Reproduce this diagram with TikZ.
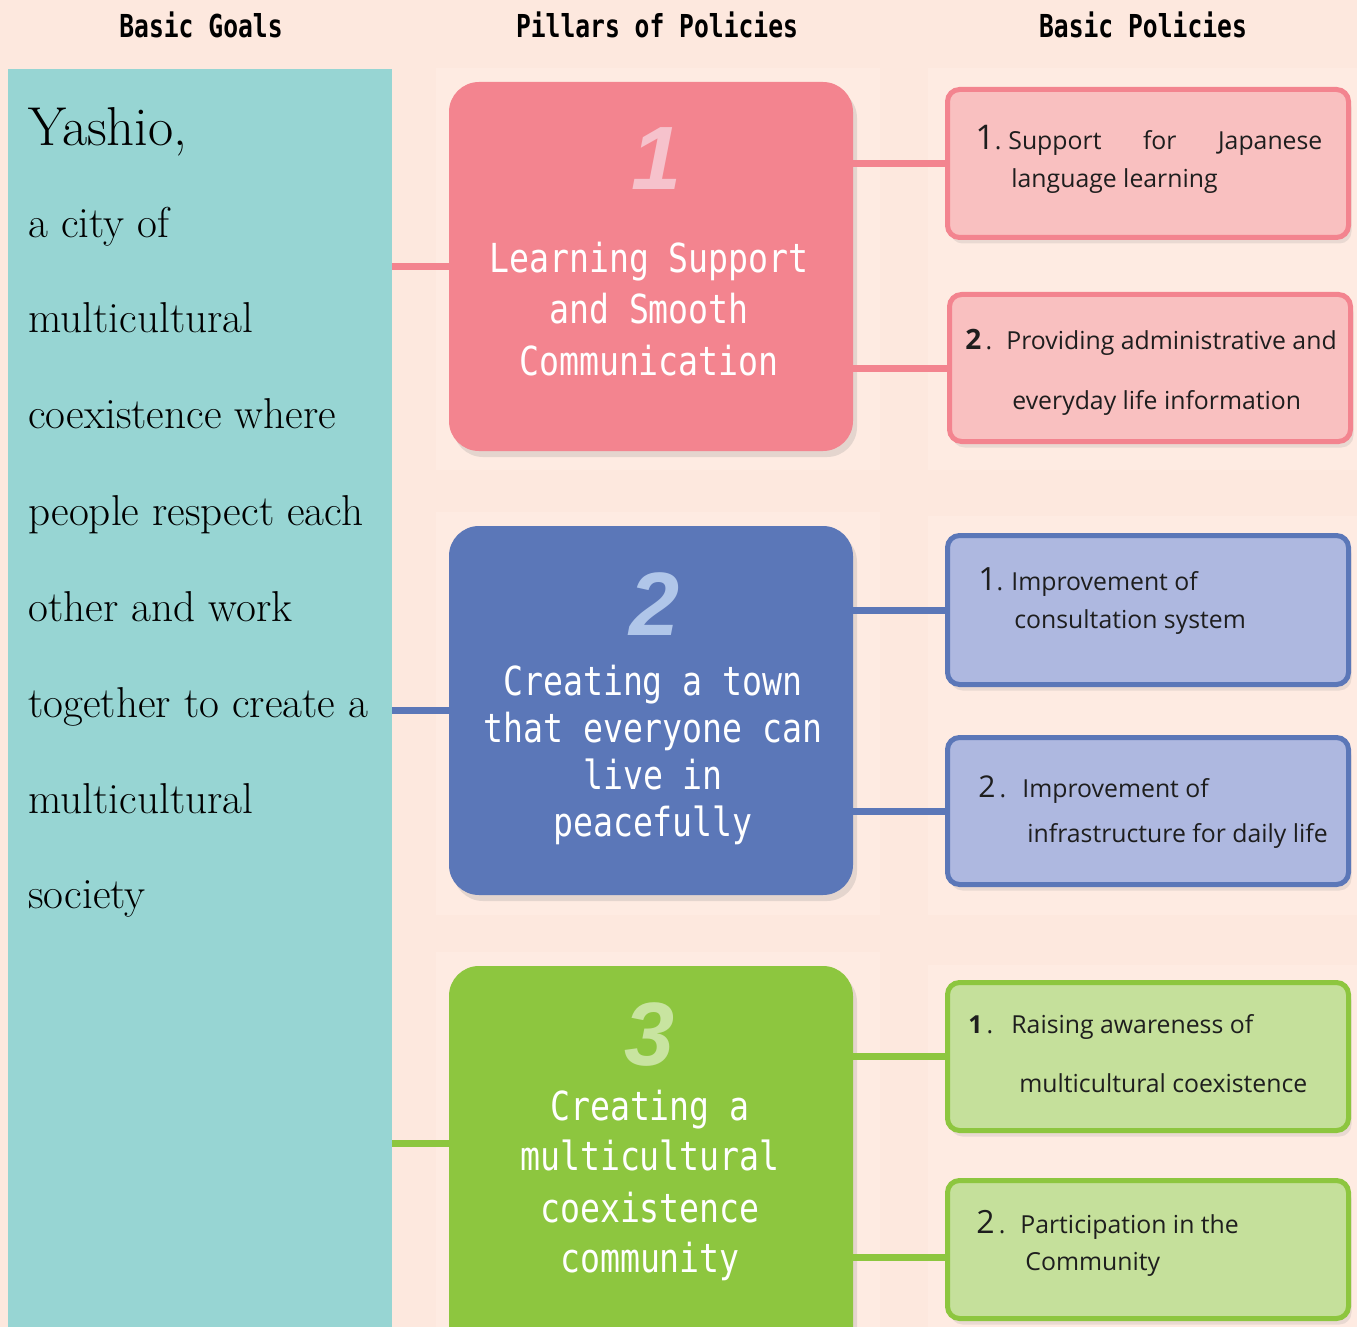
\documentclass[tikz,border=0pt]{standalone}
\usepackage{fontspec}
\newfontfamily\hdrfont[FakeStretch=0.78]{DejaVu Sans Mono}
\newfontfamily\pilfont[FakeStretch=0.83]{DejaVu Sans Mono}
\newfontfamily\polfont{Open Sans}
\newfontfamily\numfont{Liberation Sans}
\usetikzlibrary{shadows}
\definecolor{bgc}{RGB}{253,232,222}
\definecolor{panelc}{RGB}{254,235,226}
\definecolor{tealc}{RGB}{151,213,211}
\definecolor{pinkD}{RGB}{243,132,143}
\definecolor{pinkL}{RGB}{249,192,192}
\definecolor{pinkN}{RGB}{246,194,204}
\definecolor{blueD}{RGB}{91,119,184}
\definecolor{blueL}{RGB}{174,184,224}
\definecolor{blueN}{RGB}{176,198,233}
\definecolor{greenD}{RGB}{141,198,63}
\definecolor{greenL}{RGB}{197,224,155}
\definecolor{greenN}{RGB}{200,228,160}
\definecolor{txtc}{RGB}{30,30,30}
\begin{document}
\begin{tikzpicture}[x=0.5pt,y=-0.5pt,
  hdr/.style={font=\hdrfont\bfseries\fontsize{15.8}{18}\selectfont, anchor=base, inner sep=0pt},
  goaltxt/.style={font=\fontsize{21.6}{24}\selectfont, anchor=base west, inner sep=0pt, text=black},
  pillar/.style={rounded corners=15pt, minimum width=202pt, inner sep=0pt,
     drop shadow={opacity=0.2, shadow xshift=2pt, shadow yshift=-3pt}},
  piltxt/.style={font=\pilfont\fontsize{20}{22}\selectfont, text=white, anchor=base, inner sep=0pt},
  pilnum/.style={font=\numfont\bfseries\itshape\fontsize{45}{50}\selectfont, anchor=base, inner sep=0pt},
  policy/.style={rounded corners=6pt, line width=2.5pt, minimum width=200.5pt, inner sep=0pt,
     drop shadow={opacity=0.16, shadow xshift=1.5pt, shadow yshift=-3pt}},
  poltxt/.style={font=\polfont\fontsize{12.4}{14}\selectfont, text=txtc, anchor=base west, inner sep=0pt},
  link/.style={line width=3.5pt}
]
\clip (0,0) rectangle (1357,1327);
\fill[bgc] (0,0) rectangle (1357,1327);
% faint panels
\fill[panelc] (436,68) rectangle (880,470);
\fill[panelc] (436,512) rectangle (880,915);
\fill[panelc] (436,952) rectangle (880,1327);
\fill[panelc] (928,68) rectangle (1357,470);
\fill[panelc] (928,516) rectangle (1357,915);
\fill[panelc] (928,965) rectangle (1357,1327);

% headers
\node[hdr] (h1) at (201,38) {Basic Goals};
\node[hdr] (h2) at (657,38) {Pillars of Policies};
\node[hdr] (h3) at (1143,38) {Basic Policies};

% goal box
\node[fill=tealc, minimum width=192pt, minimum height=651pt, inner sep=0pt] (goal) at (200,720) {};
\node[goaltxt, font=\fontsize{27.4}{30}\selectfont] (g0) at (28,146) {Yashio,};
\foreach \t/\y/\n in {a city of/238/1, multicultural/333/2, coexistence where/429/3,
   people respect each/525/4, other and work/621/5, together to create a/717/6,
   multicultural/813/7, society/908/8}
  \node[goaltxt] (g\n) at (28,\y) {\t};

% pillars
\node[pillar, fill=pinkD, minimum height=184.5pt] (p1) at (651,266.5) {};
\node[pillar, fill=blueD, minimum height=184.5pt] (p2) at (651,710.5) {};
\node[pillar, fill=greenD, minimum height=217pt] (p3) at (651,1183) {};

\node[pilnum, text=pinkN] (n1) at (657,190) {1};
\node[piltxt] (t1a) at (649,272) {Learning Support};
\node[piltxt] (t1b) at (649,323) {and Smooth};
\node[piltxt] (t1c) at (649,375) {Communication};

\node[pilnum, text=blueN] (n2) at (655,635) {2};
\node[piltxt] (t2a) at (653,695) {Creating a town};
\node[piltxt] (t2b) at (653,742) {that everyone can};
\node[piltxt] (t2c) at (653,789) {live in};
\node[piltxt] (t2d) at (653,836) {peacefully};

\node[pilnum, text=greenN] (n3) at (650,1065) {3};
\node[piltxt] (t3a) at (650,1120) {Creating a};
\node[piltxt] (t3b) at (650,1170) {multicultural};
\node[piltxt] (t3c) at (650,1222) {coexistence};
\node[piltxt] (t3d) at (650,1272) {community};

% policy boxes
\node[policy, draw=pinkD, fill=pinkL, minimum height=74pt] (q1a) at (1148,163.5) {};
\node[policy, draw=pinkD, fill=pinkL, minimum height=73.5pt] (q1b) at (1150,368) {};
\node[policy, draw=blueD, fill=blueL, minimum height=74.5pt] (q2a) at (1148,610) {};
\node[policy, draw=blueD, fill=blueL, minimum height=73.5pt] (q2b) at (1148,811) {};
\node[policy, draw=greenD, fill=greenL, minimum height=74pt] (q3a) at (1148,1056.5) {};
\node[policy, draw=greenD, fill=greenL, minimum height=69pt] (q3b) at (1148,1249.5) {};

% connectors
\coordinate (g3c) at (420,1143);
\coordinate (q3c) at (900,1257);
\draw[link, pinkD] (goal.east |- p1.west) -- (p1.west);
\draw[link, blueD] (goal.east |- p2.west) -- (p2.west);
\draw[link, greenD] (goal.east |- g3c) -- (p3.west |- g3c);
\draw[link, pinkD] (p1.east |- q1a.west) -- (q1a.west);
\draw[link, pinkD] (p1.east |- q1b.west) -- (q1b.west);
\draw[link, blueD] (p2.east |- q2a.west) -- (q2a.west);
\draw[link, blueD] (p2.east |- q2b.west) -- (q2b.west);
\draw[link, greenD] (p3.east |- q3a.west) -- (q3a.west);
\draw[link, greenD] (p3.east |- q3c) -- (q3b.west |- q3c);

% policy texts
\node[poltxt] (q1an) at (975,150) {{\fontsize{17}{18}\selectfont 1}.};
\node[poltxt] (q1at) at (1008,150) {\makebox[157pt][s]{Support for Japanese}};
\node[poltxt] (q1al) at (1011,188) {language learning};

\node[poltxt] (q1bn) at (965,350) {{\bfseries\fontsize{14}{16}\selectfont 2}\,.};
\node[poltxt] (q1bt) at (1006,350) {Providing administrative and};
\node[poltxt] (q1bl) at (1012,409) {everyday life information};

\node[poltxt] (q2an) at (978,590) {{\fontsize{16}{18}\selectfont 1}.};
\node[poltxt] (q2at) at (1011,590) {Improvement of};
\node[poltxt] (q2al) at (1014,628) {consultation system};

\node[poltxt] (q2bn) at (978,797) {{\fontsize{15}{18}\selectfont 2}\,.};
\node[poltxt] (q2bt) at (1022,797) {Improvement of};
\node[poltxt] (q2bl) at (1027,842) {infrastructure for daily life};

\node[poltxt] (q3an) at (968,1033) {{\bfseries 1}\,.};
\node[poltxt] (q3at) at (1011,1033) {Raising awareness of};
\node[poltxt] (q3al) at (1019,1092) {multicultural coexistence};

\node[poltxt] (q3bn) at (976,1233) {{\fontsize{16}{18}\selectfont 2}\,.};
\node[poltxt] (q3bt) at (1020,1233) {Participation in the};
\node[poltxt] (q3bl) at (1025,1270) {Community};
\end{tikzpicture}
\end{document}
